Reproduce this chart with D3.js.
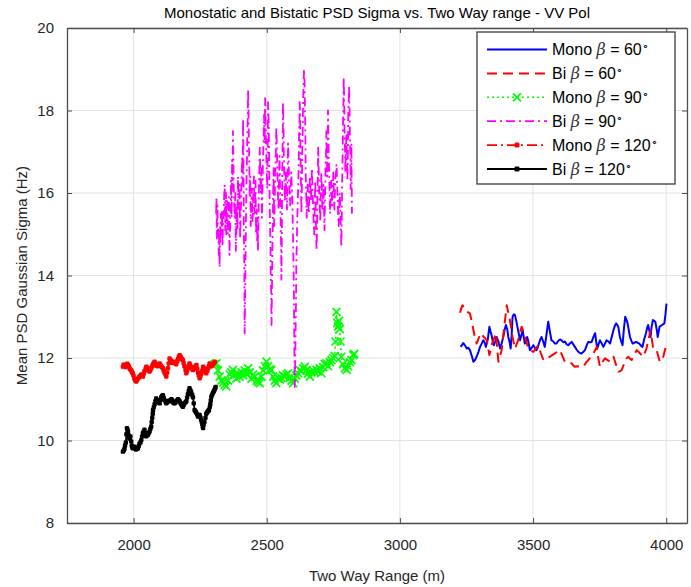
<!DOCTYPE html>
<html><head><meta charset="utf-8">
<script src="https://cdn.jsdelivr.net/npm/d3@7"></script>
<style>
html,body{margin:0;padding:0;background:#fff;}
svg{display:block;font-family:"Liberation Sans",Arial,Helvetica,sans-serif;}
</style></head>
<body>
<svg id="chart" width="691" height="587"></svg>
<script>
const titleText = "Monostatic and Bistatic PSD Sigma vs. Two Way range - VV Pol";
const xLabelText = "Two Way Range (m)";
const yLabelText = "Mean PSD Gaussian Sigma (Hz)";
const xTicks = [2000, 2500, 3000, 3500, 4000];
const yTicks = [8, 10, 12, 14, 16, 18, 20];
const xDomain = [1750, 4078];
const yDomain = [8, 20];

// [range (m), sigma (Hz)]
const mono60 = [[3228,12.27],[3238,12.36],[3245,12.30],[3251,12.23],[3257,12.25],[3263,12.19],[3270,12.05],[3276,11.91],[3282,11.95],[3288,12.03],[3295,12.15],[3301,12.27],[3307,12.35],[3313,12.43],[3318,12.38],[3323,12.27],[3330,12.45],[3336,12.76],[3340,12.65],[3344,12.56],[3349,12.40],[3353,12.31],[3358,12.40],[3363,12.51],[3370,12.40],[3376,12.23],[3382,12.35],[3388,12.51],[3393,12.68],[3398,12.80],[3403,12.70],[3407,12.51],[3412,12.38],[3416,12.23],[3420,12.60],[3423,13.00],[3428,13.06],[3432,13.04],[3437,12.90],[3441,12.76],[3446,12.60],[3451,12.43],[3456,12.55],[3461,12.68],[3465,12.50],[3469,12.35],[3474,12.42],[3478,12.51],[3483,12.38],[3488,12.19],[3495,12.25],[3501,12.31],[3507,12.25],[3513,12.19],[3518,12.26],[3522,12.35],[3527,12.45],[3532,12.51],[3538,12.40],[3544,12.27],[3550,12.55],[3557,12.88],[3563,12.65],[3569,12.43],[3576,12.40],[3582,12.35],[3588,12.35],[3595,12.42],[3601,12.45],[3608,12.42],[3614,12.38],[3620,12.40],[3626,12.33],[3632,12.31],[3638,12.35],[3645,12.39],[3651,12.33],[3657,12.27],[3664,12.20],[3670,12.15],[3676,12.12],[3682,12.11],[3689,12.15],[3695,12.19],[3701,12.30],[3707,12.39],[3714,12.38],[3720,12.39],[3726,12.50],[3733,12.60],[3737,12.40],[3741,12.23],[3746,12.33],[3751,12.43],[3758,12.35],[3764,12.27],[3770,12.35],[3776,12.43],[3783,12.40],[3789,12.35],[3795,12.50],[3802,12.68],[3807,12.78],[3812,12.84],[3816,12.80],[3820,12.76],[3826,12.51],[3831,12.40],[3836,12.31],[3841,12.70],[3846,13.00],[3851,12.92],[3855,12.84],[3860,12.65],[3864,12.51],[3869,12.42],[3874,12.35],[3880,12.37],[3887,12.39],[3893,12.37],[3899,12.35],[3905,12.30],[3911,12.27],[3917,12.45],[3924,12.60],[3928,12.72],[3932,12.80],[3937,12.65],[3941,12.51],[3945,12.75],[3950,12.92],[3955,12.90],[3959,12.88],[3964,12.70],[3968,12.51],[3972,12.65],[3975,12.76],[3980,12.78],[3984,12.80],[3989,12.82],[3993,12.84],[3997,13.05],[4001,13.32]];

const bi60 = [[3226,13.10],[3230,13.20],[3235,13.28],[3241,13.22],[3247,13.15],[3252,13.12],[3258,13.10],[3263,13.08],[3270,12.88],[3276,12.68],[3282,12.50],[3288,12.35],[3294,12.45],[3300,12.55],[3307,12.60],[3313,12.52],[3320,12.48],[3326,12.43],[3331,12.25],[3336,12.07],[3341,12.20],[3346,12.35],[3351,12.43],[3356,12.52],[3361,12.60],[3365,12.25],[3370,11.91],[3376,12.05],[3382,12.19],[3388,12.55],[3394,12.88],[3398,13.10],[3401,13.28],[3407,13.10],[3413,12.92],[3418,12.70],[3423,12.51],[3428,12.35],[3432,12.23],[3438,12.33],[3444,12.43],[3450,12.60],[3457,12.76],[3463,12.65],[3469,12.56],[3475,12.40],[3482,12.23],[3491,12.18],[3501,12.15],[3510,12.22],[3519,12.31],[3529,12.12],[3539,11.95],[3551,11.99],[3563,12.03],[3572,12.07],[3582,12.11],[3591,12.15],[3601,12.19],[3610,12.05],[3619,11.91],[3626,11.91],[3635,11.88],[3645,11.87],[3651,11.82],[3657,11.79],[3668,11.80],[3679,11.78],[3689,11.79],[3698,11.88],[3707,11.95],[3714,12.00],[3720,12.03],[3730,12.15],[3739,12.27],[3745,12.00],[3751,11.79],[3760,11.90],[3770,11.99],[3780,11.95],[3789,11.91],[3796,11.97],[3802,12.03],[3811,11.85],[3820,11.67],[3827,11.68],[3833,11.71],[3840,11.83],[3846,11.95],[3852,12.00],[3858,12.03],[3864,11.98],[3870,11.95],[3880,12.08],[3889,12.19],[3896,12.15],[3902,12.11],[3908,12.06],[3914,12.03],[3920,12.13],[3926,12.23],[3929,12.33],[3932,12.43],[3937,12.55],[3941,12.68],[3946,12.45],[3951,12.23],[3958,12.20],[3964,12.19],[3970,12.05],[3976,11.91],[3983,11.97],[3989,12.03],[3995,12.19],[4001,12.35]];

const mono90 = [[2305,11.85],[2311,11.87],[2317,11.70],[2323,11.55],[2330,11.45],[2336,11.40],[2342,11.35],[2348,11.31],[2355,11.45],[2361,11.60],[2367,11.65],[2373,11.71],[2380,11.60],[2386,11.50],[2392,11.62],[2398,11.55],[2405,11.65],[2411,11.58],[2417,11.70],[2424,11.62],[2430,11.75],[2436,11.65],[2443,11.50],[2449,11.60],[2455,11.55],[2462,11.45],[2468,11.42],[2474,11.39],[2480,11.55],[2486,11.70],[2493,11.80],[2499,11.91],[2505,11.80],[2511,11.72],[2517,11.71],[2524,11.55],[2530,11.45],[2536,11.39],[2543,11.50],[2549,11.48],[2555,11.51],[2561,11.58],[2568,11.55],[2574,11.60],[2580,11.63],[2586,11.52],[2593,11.45],[2599,11.39],[2605,11.50],[2611,11.58],[2618,11.63],[2624,11.70],[2630,11.68],[2637,11.75],[2643,11.79],[2649,11.70],[2655,11.62],[2662,11.55],[2668,11.65],[2674,11.70],[2680,11.65],[2687,11.71],[2693,11.68],[2699,11.75],[2705,11.63],[2712,11.78],[2718,11.85],[2724,11.87],[2730,11.80],[2737,11.90],[2743,11.95],[2749,12.00],[2755,12.05],[2758,12.40],[2762,13.12],[2765,12.85],[2768,12.76],[2771,12.90],[2774,12.70],[2777,12.40],[2780,12.03],[2786,11.85],[2793,11.75],[2800,11.71],[2806,11.80],[2812,11.90],[2818,11.95],[2825,12.07],[2828,12.10]];

const bi90 = [[2310,15.5],[2311,15.9],[2313,14.9],[2315,15.7],[2316,15.3],[2318,15.0],[2320,14.5],[2322,15.1],[2323,14.2],[2325,15.2],[2326,14.8],[2328,15.5],[2330,15.0],[2332,15.6],[2334,14.7],[2336,15.3],[2338,15.4],[2340,15.9],[2342,16.2],[2344,15.1],[2345,15.6],[2347,16.0],[2348,15.0],[2350,15.5],[2352,15.8],[2354,15.0],[2356,15.2],[2358,15.9],[2360,14.5],[2362,15.0],[2363,15.4],[2365,15.9],[2366,16.3],[2368,15.4],[2370,16.8],[2372,16.1],[2373,17.5],[2375,16.8],[2376,16.2],[2378,15.7],[2380,15.4],[2382,16.0],[2384,14.6],[2386,15.2],[2388,15.7],[2390,15.1],[2392,16.4],[2394,15.9],[2396,15.6],[2398,16.2],[2400,14.9],[2402,15.5],[2404,15.8],[2406,16.5],[2408,16.9],[2410,16.2],[2411,17.8],[2413,16.6],[2414,15.2],[2416,14.0],[2417,12.6],[2419,13.5],[2420,14.1],[2422,15.4],[2424,16.3],[2426,16.9],[2427,17.4],[2429,17.9],[2430,18.5],[2432,17.8],[2433,17.2],[2435,16.5],[2436,15.9],[2438,16.4],[2440,15.2],[2442,15.8],[2444,16.1],[2446,15.3],[2448,15.5],[2450,16.2],[2452,16.4],[2454,15.5],[2456,15.8],[2458,16.3],[2460,15.0],[2462,15.6],[2464,14.8],[2466,15.4],[2467,14.6],[2469,15.2],[2470,15.9],[2472,16.5],[2474,17.1],[2476,16.4],[2478,16.0],[2480,16.6],[2482,15.4],[2484,16.1],[2486,16.8],[2488,17.3],[2490,17.9],[2492,17.2],[2494,18.3],[2496,17.6],[2498,17.0],[2500,16.5],[2502,16.1],[2504,17.4],[2505,18.2],[2507,17.8],[2508,17.4],[2510,16.3],[2512,15.3],[2514,14.8],[2515,14.0],[2517,13.5],[2518,12.8],[2520,13.9],[2521,14.5],[2523,15.4],[2524,16.0],[2526,16.6],[2528,15.2],[2530,15.9],[2532,16.4],[2534,17.0],[2536,17.6],[2538,17.1],[2540,16.5],[2542,16.0],[2544,15.6],[2546,16.3],[2548,16.9],[2550,16.1],[2552,15.4],[2554,14.6],[2555,13.9],[2557,15.2],[2558,16.4],[2560,17.3],[2561,18.2],[2563,17.6],[2564,17.0],[2566,16.4],[2568,15.8],[2570,16.2],[2572,16.5],[2574,16.0],[2576,15.6],[2578,16.4],[2580,17.2],[2582,16.8],[2584,16.3],[2586,15.9],[2588,15.7],[2590,16.1],[2592,16.5],[2594,16.2],[2596,15.9],[2598,15.2],[2600,14.5],[2602,13.6],[2603,12.8],[2604,12.0],[2605,11.3],[2607,11.9],[2608,12.5],[2610,13.4],[2611,14.3],[2613,14.8],[2614,15.2],[2616,15.7],[2618,16.1],[2620,16.7],[2621,17.3],[2623,17.8],[2624,18.2],[2626,17.5],[2627,16.8],[2629,16.1],[2630,15.5],[2632,16.2],[2633,16.9],[2635,17.5],[2636,18.0],[2638,18.6],[2640,19.0],[2642,18.7],[2643,18.3],[2645,17.4],[2646,16.6],[2648,16.0],[2650,15.4],[2652,15.9],[2654,16.2],[2656,15.7],[2658,15.5],[2660,16.0],[2662,16.4],[2664,16.1],[2666,15.8],[2668,16.2],[2670,16.6],[2672,16.0],[2674,15.7],[2676,15.3],[2678,15.0],[2680,15.6],[2682,16.3],[2684,15.5],[2687,14.6],[2689,15.2],[2690,15.8],[2692,16.5],[2693,17.1],[2695,16.6],[2697,16.0],[2699,15.7],[2701,15.3],[2703,15.9],[2705,16.5],[2707,16.1],[2709,15.6],[2711,15.9],[2713,16.2],[2715,15.6],[2717,15.1],[2719,15.9],[2721,16.7],[2723,17.1],[2724,17.5],[2726,16.9],[2727,16.4],[2729,17.2],[2730,18.0],[2732,17.3],[2734,16.6],[2736,16.0],[2738,15.5],[2740,15.9],[2742,16.3],[2744,16.0],[2746,15.7],[2748,16.1],[2750,16.5],[2752,16.0],[2754,15.6],[2756,16.0],[2758,16.4],[2760,16.5],[2762,16.7],[2764,16.3],[2766,15.9],[2768,15.5],[2770,15.2],[2772,15.6],[2774,16.0],[2776,15.7],[2777,15.4],[2779,15.0],[2780,14.7],[2782,15.5],[2783,16.2],[2785,16.9],[2786,17.5],[2788,18.2],[2789,18.8],[2791,18.2],[2792,17.6],[2794,17.0],[2795,16.5],[2797,17.0],[2799,17.4],[2801,16.8],[2803,16.3],[2805,17.1],[2806,17.9],[2808,18.3],[2809,18.6],[2811,18.0],[2812,17.5],[2814,16.8],[2815,16.1],[2817,16.7],[2818,17.2],[2819,16.3],[2820,15.5]];

const mono120 = [[1960,11.79],[1963,11.84],[1966,11.83],[1969,11.78],[1972,11.80],[1976,11.86],[1979,11.83],[1982,11.80],[1985,11.75],[1988,11.72],[1991,11.70],[1994,11.66],[1997,11.63],[2000,11.57],[2003,11.50],[2006,11.46],[2010,11.43],[2013,11.47],[2016,11.50],[2020,11.53],[2023,11.55],[2026,11.58],[2029,11.60],[2032,11.57],[2035,11.55],[2038,11.62],[2041,11.68],[2045,11.74],[2048,11.79],[2051,11.76],[2054,11.72],[2057,11.70],[2060,11.67],[2063,11.71],[2066,11.75],[2070,11.80],[2073,11.85],[2076,11.88],[2079,11.91],[2082,11.86],[2085,11.82],[2088,11.81],[2091,11.80],[2095,11.84],[2098,11.87],[2101,11.83],[2104,11.80],[2107,11.78],[2110,11.75],[2113,11.70],[2116,11.65],[2120,11.60],[2123,11.55],[2126,11.65],[2129,11.75],[2132,11.87],[2135,11.99],[2138,11.96],[2142,11.93],[2145,11.90],[2148,11.88],[2151,11.90],[2154,11.91],[2157,11.88],[2160,11.85],[2164,11.92],[2167,11.98],[2170,12.03],[2173,12.07],[2176,12.04],[2179,12.00],[2182,11.97],[2185,11.95],[2188,11.88],[2191,11.80],[2195,11.71],[2198,11.63],[2201,11.69],[2204,11.75],[2207,11.81],[2210,11.87],[2213,11.82],[2216,11.78],[2220,11.74],[2223,11.71],[2226,11.74],[2229,11.77],[2232,11.80],[2236,11.83],[2239,11.74],[2242,11.65],[2245,11.58],[2248,11.51],[2251,11.56],[2254,11.62],[2258,11.70],[2261,11.79],[2264,11.75],[2267,11.70],[2270,11.66],[2273,11.63],[2277,11.69],[2280,11.75],[2283,11.81],[2286,11.87],[2289,11.83],[2292,11.80],[2296,11.83],[2299,11.85],[2302,11.88],[2305,11.91]];

const bi120 = [[1960,9.73],[1963,9.76],[1966,9.80],[1968,9.88],[1971,9.95],[1973,10.15],[1975,10.30],[1977,10.26],[1979,10.22],[1982,10.12],[1984,10.05],[1986,10.08],[1988,10.10],[1991,9.98],[1993,9.88],[1995,9.84],[1997,9.81],[2000,9.83],[2003,9.85],[2006,9.81],[2009,9.78],[2013,9.80],[2016,9.81],[2019,9.86],[2022,9.92],[2026,9.96],[2029,10.01],[2032,10.10],[2035,10.18],[2038,10.22],[2041,10.26],[2044,10.18],[2047,10.10],[2050,10.12],[2054,10.14],[2057,10.18],[2060,10.22],[2063,10.28],[2066,10.34],[2068,10.45],[2070,10.55],[2072,10.65],[2073,10.74],[2076,10.81],[2079,10.88],[2082,10.95],[2085,11.02],[2088,10.98],[2091,10.95],[2095,10.92],[2098,10.90],[2101,10.98],[2104,11.05],[2107,11.08],[2110,11.10],[2113,11.04],[2116,10.98],[2120,10.94],[2123,10.90],[2126,10.93],[2129,10.96],[2132,10.96],[2135,10.95],[2139,10.98],[2142,11.00],[2145,10.97],[2148,10.93],[2151,10.91],[2154,10.90],[2157,10.92],[2160,10.95],[2164,10.98],[2167,11.00],[2170,10.98],[2173,10.95],[2176,10.91],[2179,10.88],[2182,10.85],[2185,10.82],[2188,10.86],[2191,10.90],[2195,10.93],[2198,10.95],[2201,11.04],[2204,11.12],[2207,11.20],[2210,11.27],[2213,11.22],[2216,11.18],[2220,11.11],[2223,11.05],[2226,10.90],[2229,10.74],[2232,10.71],[2235,10.68],[2239,10.63],[2242,10.58],[2245,10.60],[2248,10.62],[2251,10.56],[2254,10.50],[2256,10.45],[2258,10.40],[2260,10.34],[2261,10.30],[2263,10.38],[2266,10.45],[2270,10.55],[2273,10.65],[2276,10.68],[2278,10.70],[2281,10.72],[2283,10.74],[2286,10.81],[2288,10.88],[2290,10.97],[2292,11.06],[2295,11.11],[2298,11.15],[2301,11.19],[2303,11.22],[2306,11.26],[2308,11.30]];

const seriesNames = ["Mono", "Bi", "Mono", "Bi", "Mono", "Bi"];
const seriesAngles = ["60", "60", "90", "90", "120", "120"];

const series = [
  {data: mono60,  color: "#0000ff", dash: null,        width: 2.0, marker: null},
  {data: bi60,    color: "#ff0000", dash: "10,6",      width: 2.0, marker: null},
  {data: mono90,  color: "#00ff00", dash: "2,3",       width: 1.6, marker: "x"},
  {data: bi90,    color: "#ff00ff", dash: "9,4,2,4",   width: 1.8, marker: null},
  {data: mono120, color: "#ff0000", dash: "10,4,2,4",  width: 1.8, marker: "dot"},
  {data: bi120,   color: "#000000", dash: null,        width: 1.8, marker: "dot"}
];

const svg = d3.select("#chart");
const L = 67, R = 687, T = 28, B = 523;
const x = d3.scaleLinear().domain(xDomain).range([L, R]);
const y = d3.scaleLinear().domain(yDomain).range([B, T]);

// grid
const grid = svg.append("g");
grid.selectAll(".gx").data(xTicks).join("line")
  .attr("x1", d => x(d)).attr("x2", d => x(d)).attr("y1", T).attr("y2", B)
  .attr("stroke", "#e3e3e3").attr("stroke-width", 1);
grid.selectAll(".gy").data(yTicks).join("line")
  .attr("y1", d => y(d)).attr("y2", d => y(d)).attr("x1", L).attr("x2", R)
  .attr("stroke", "#e3e3e3").attr("stroke-width", 1);

// data
const clipId = "plotclip";
svg.append("clipPath").attr("id", clipId).append("rect")
  .attr("x", L).attr("y", T).attr("width", R - L).attr("height", B - T);
const plot = svg.append("g").attr("clip-path", `url(#${clipId})`);
const line = d3.line().x(d => x(d[0])).y(d => y(d[1]));

series.forEach(s => {
  const g = plot.append("g");
  g.append("path").datum(s.data).attr("d", line)
    .attr("fill", "none").attr("stroke", s.color).attr("stroke-width", s.width)
    .attr("stroke-linejoin", "round")
    .attr("stroke-dasharray", s.dash);
  if (s.marker === "dot") {
    g.selectAll("rect").data(s.data).join("rect")
      .attr("x", d => x(d[0]) - 2.2).attr("y", d => y(d[1]) - 2.2)
      .attr("width", 4.4).attr("height", 4.4).attr("rx", 1.2)
      .attr("fill", s.color);
  } else if (s.marker === "x") {
    const k = 4;
    g.selectAll("path.mk").data(s.data).join("path").attr("class", "mk")
      .attr("d", d => {
        const cx = x(d[0]), cy = y(d[1]);
        return `M${cx-k},${cy-k}L${cx+k},${cy+k}M${cx-k},${cy+k}L${cx+k},${cy-k}`;
      })
      .attr("stroke", s.color).attr("stroke-width", 1.7).attr("fill", "none");
  }
});

// axes
const axisColor = "#4d4d4d";
const tickLen = 5;
const fontSize = "15px";
const xAxis = svg.append("g").attr("transform", `translate(0,${B})`)
  .call(d3.axisBottom(x).tickValues(xTicks).tickSizeInner(-tickLen).tickSizeOuter(0).tickPadding(16).tickFormat(d3.format("d")));
const xAxisTop = svg.append("g").attr("transform", `translate(0,${T})`)
  .call(d3.axisTop(x).tickValues(xTicks).tickSizeInner(-tickLen).tickSizeOuter(0).tickFormat(""));
const yAxis = svg.append("g").attr("transform", `translate(${L},0)`)
  .call(d3.axisLeft(y).tickValues(yTicks).tickSizeInner(-tickLen).tickSizeOuter(0).tickPadding(13).tickFormat(d3.format("d")));
const yAxisRight = svg.append("g").attr("transform", `translate(${R},0)`)
  .call(d3.axisRight(y).tickValues(yTicks).tickSizeInner(-tickLen).tickSizeOuter(0).tickFormat(""));
[xAxis, xAxisTop, yAxis, yAxisRight].forEach(a => {
  a.select(".domain").attr("stroke", axisColor).attr("stroke-width", 1.3);
  a.selectAll(".tick line").attr("stroke", axisColor).attr("stroke-width", 1);
  a.selectAll(".tick text").attr("fill", "#262626").style("font-size", fontSize)
    .style("font-family", "'Liberation Sans', Arial, sans-serif");
});

// title and labels
svg.append("text").attr("x", (L + R) / 2).attr("y", 18).attr("text-anchor", "middle")
  .style("font-size", "15px").attr("fill", "#000").text(titleText);
svg.append("text").attr("x", (L + R) / 2).attr("y", 581).attr("text-anchor", "middle")
  .style("font-size", "15px").attr("fill", "#262626").text(xLabelText);
svg.append("text").attr("transform", `translate(27,${(T + B) / 2}) rotate(-90)`)
  .attr("text-anchor", "middle").style("font-size", "15px").attr("fill", "#262626").text(yLabelText);

// legend
const lg = svg.append("g");
const lx = 477, ly = 32, lw = 198, lh = 152;
lg.append("rect").attr("x", lx).attr("y", ly).attr("width", lw).attr("height", lh)
  .attr("fill", "#fff").attr("stroke", "#3a3a3a").attr("stroke-width", 1.3);
series.forEach((s, i) => {
  const cy = 49.5 + i * 23.9;
  const x1 = 487, x2 = 547, xm = (x1 + x2) / 2;
  lg.append("line").attr("x1", x1).attr("x2", x2).attr("y1", cy).attr("y2", cy)
    .attr("stroke", s.color).attr("stroke-width", s.width).attr("stroke-dasharray", s.dash);
  if (s.marker === "dot") {
    lg.append("rect").attr("x", xm - 2.5).attr("y", cy - 2.5).attr("width", 5).attr("height", 5)
      .attr("rx", 1.3).attr("fill", s.color);
  } else if (s.marker === "x") {
    const k = 4;
    lg.append("path").attr("d", `M${xm-k},${cy-k}L${xm+k},${cy+k}M${xm-k},${cy+k}L${xm+k},${cy-k}`)
      .attr("stroke", s.color).attr("stroke-width", 1.7);
  }
  const t = lg.append("text").attr("x", 552).attr("y", cy + 5.8).style("font-size", "16px").attr("fill", "#000");
  t.append("tspan").text(seriesNames[i] + " ");
  t.append("tspan").style("font-family", "'DejaVu Serif', serif").style("font-style", "italic").attr("fill", "#333").text("β");
  t.append("tspan").text(" = " + seriesAngles[i]);
  t.append("tspan").attr("dy", -5).style("font-size", "11px").text("∘");
});
</script>
</body></html>
